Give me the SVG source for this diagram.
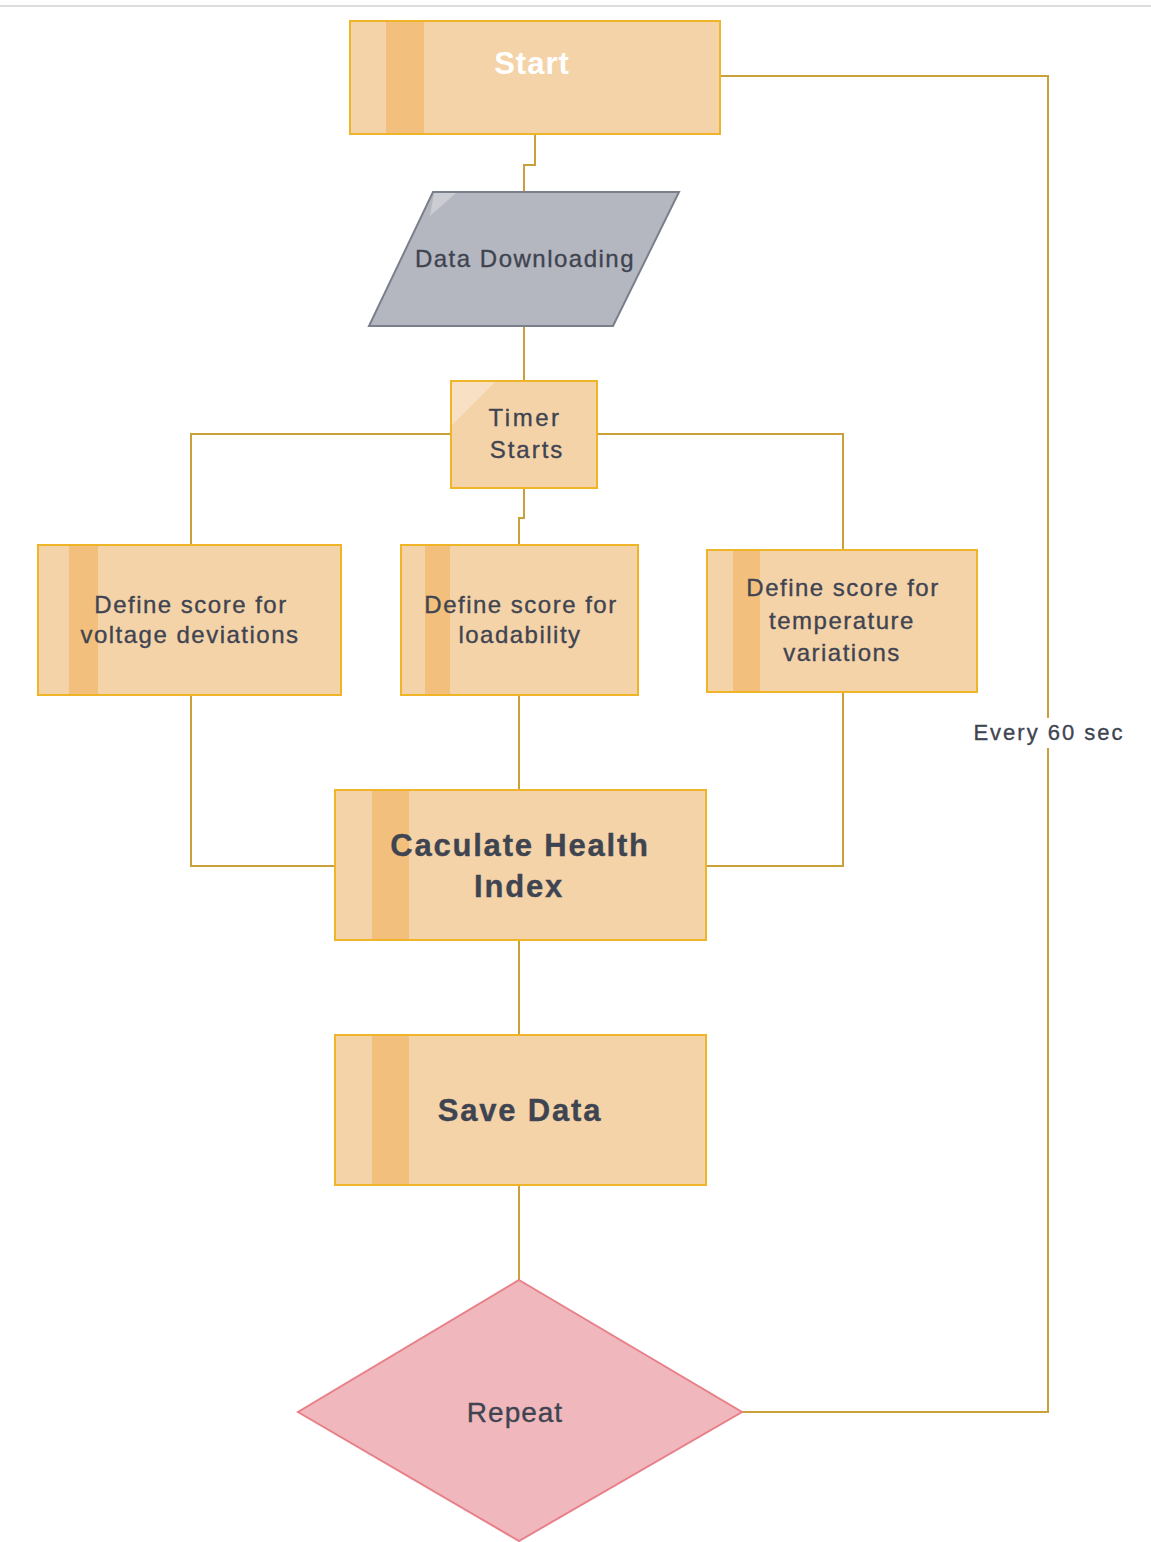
<svg xmlns="http://www.w3.org/2000/svg" width="1151" height="1542" viewBox="0 0 1151 1542">
  <style>
    .box { fill: #F5D3A9; stroke: #F0B429; stroke-width: 2; }
    .stripe { fill: #F2C07C; }
    .wire { fill: none; stroke: #C9A03A; stroke-width: 2; }
    .t { font-family: "Liberation Sans", Arial, sans-serif; fill: #3F4451; text-anchor: middle; stroke: #3F4451; stroke-width: 0.35; }
    .s { font-size: 24px; letter-spacing: 1.5px; }
    .b { font-size: 31px; font-weight: bold; letter-spacing: 1.8px; }
  </style>
  <rect width="1151" height="1542" fill="#fff"/>
  <line x1="0" y1="6" x2="1151" y2="6" stroke="#DDDDDD" stroke-width="2"/>

  <g id="connectors">
    <path class="wire" d="M535 134 V165 H524 V192"/>
    <path class="wire" d="M524 326 V381"/>
    <path class="wire" d="M451 434 H191 V545"/>
    <path class="wire" d="M597 434 H843 V550"/>
    <path class="wire" d="M524 488 V518 H519 V545"/>
    <path class="wire" d="M191 695 V866 H335"/>
    <path class="wire" d="M519 695 V790"/>
    <path class="wire" d="M843 692 V866 H706"/>
    <path class="wire" d="M519 940 V1035"/>
    <path class="wire" d="M519 1185 V1280"/>
    <path class="wire" d="M742 1412 H1048 V76 H720"/>
    <rect x="966" y="718" width="164" height="30" fill="#fff"/>
    <text class="t" x="1049" y="740" style="font-size:22px;letter-spacing:2px">Every 60 sec</text>
  </g>

  <g id="start">
    <rect class="box" x="350" y="21" width="370" height="113"/>
    <rect class="stripe" x="386" y="22" width="38" height="111"/>
    <text class="t" x="532" y="74" style="font-size:31px;font-weight:bold;letter-spacing:1px;fill:#fff;stroke:none">Start</text>
  </g>

  <g id="data-downloading">
    <polygon points="433,192 679,192 613,326 369,326" fill="#B4B7BF" stroke="#7A7F8C" stroke-width="2"/>
    <polygon points="434,193 456,193 430,216" fill="#CBCDD3"/>
    <text class="t s" x="525" y="267">Data Downloading</text>
  </g>

  <g id="timer-starts">
    <rect class="box" x="451" y="381" width="146" height="107"/>
    <polygon points="452,382 495,382 452,425" fill="#F8E0C4"/>
    <text class="t s" x="525" y="426" style="letter-spacing:2.5px">Timer</text>
    <text class="t s" x="527" y="458" style="letter-spacing:2px">Starts</text>
  </g>

  <g id="voltage-score">
    <rect class="box" x="38" y="545" width="303" height="150"/>
    <rect class="stripe" x="69" y="546" width="29" height="148"/>
    <text class="t s" x="191" y="613">Define score for</text>
    <text class="t s" x="190" y="643">voltage deviations</text>
  </g>

  <g id="loadability-score">
    <rect class="box" x="401" y="545" width="237" height="150"/>
    <rect class="stripe" x="425" y="546" width="25" height="148"/>
    <text class="t s" x="521" y="613">Define score for</text>
    <text class="t s" x="520" y="643">loadability</text>
  </g>

  <g id="temperature-score">
    <rect class="box" x="707" y="550" width="270" height="142"/>
    <rect class="stripe" x="733" y="551" width="27" height="140"/>
    <text class="t s" x="843" y="596">Define score for</text>
    <text class="t s" x="842" y="629">temperature</text>
    <text class="t s" x="842" y="661">variations</text>
  </g>

  <g id="health-index">
    <rect class="box" x="335" y="790" width="371" height="150"/>
    <rect class="stripe" x="372" y="791" width="37" height="148"/>
    <text class="t b" x="520" y="856">Caculate Health</text>
    <text class="t b" x="519" y="897">Index</text>
  </g>

  <g id="save-data">
    <rect class="box" x="335" y="1035" width="371" height="150"/>
    <rect class="stripe" x="372" y="1036" width="37" height="148"/>
    <text class="t b" x="520" y="1121">Save Data</text>
  </g>

  <g id="repeat">
    <polygon points="519,1280 742,1412 519,1541 298,1412" fill="#F0B8BC" stroke="#E8808A" stroke-width="2"/>
    <text class="t" x="515" y="1422" style="font-size:28px;letter-spacing:1px">Repeat</text>
  </g>
</svg>
